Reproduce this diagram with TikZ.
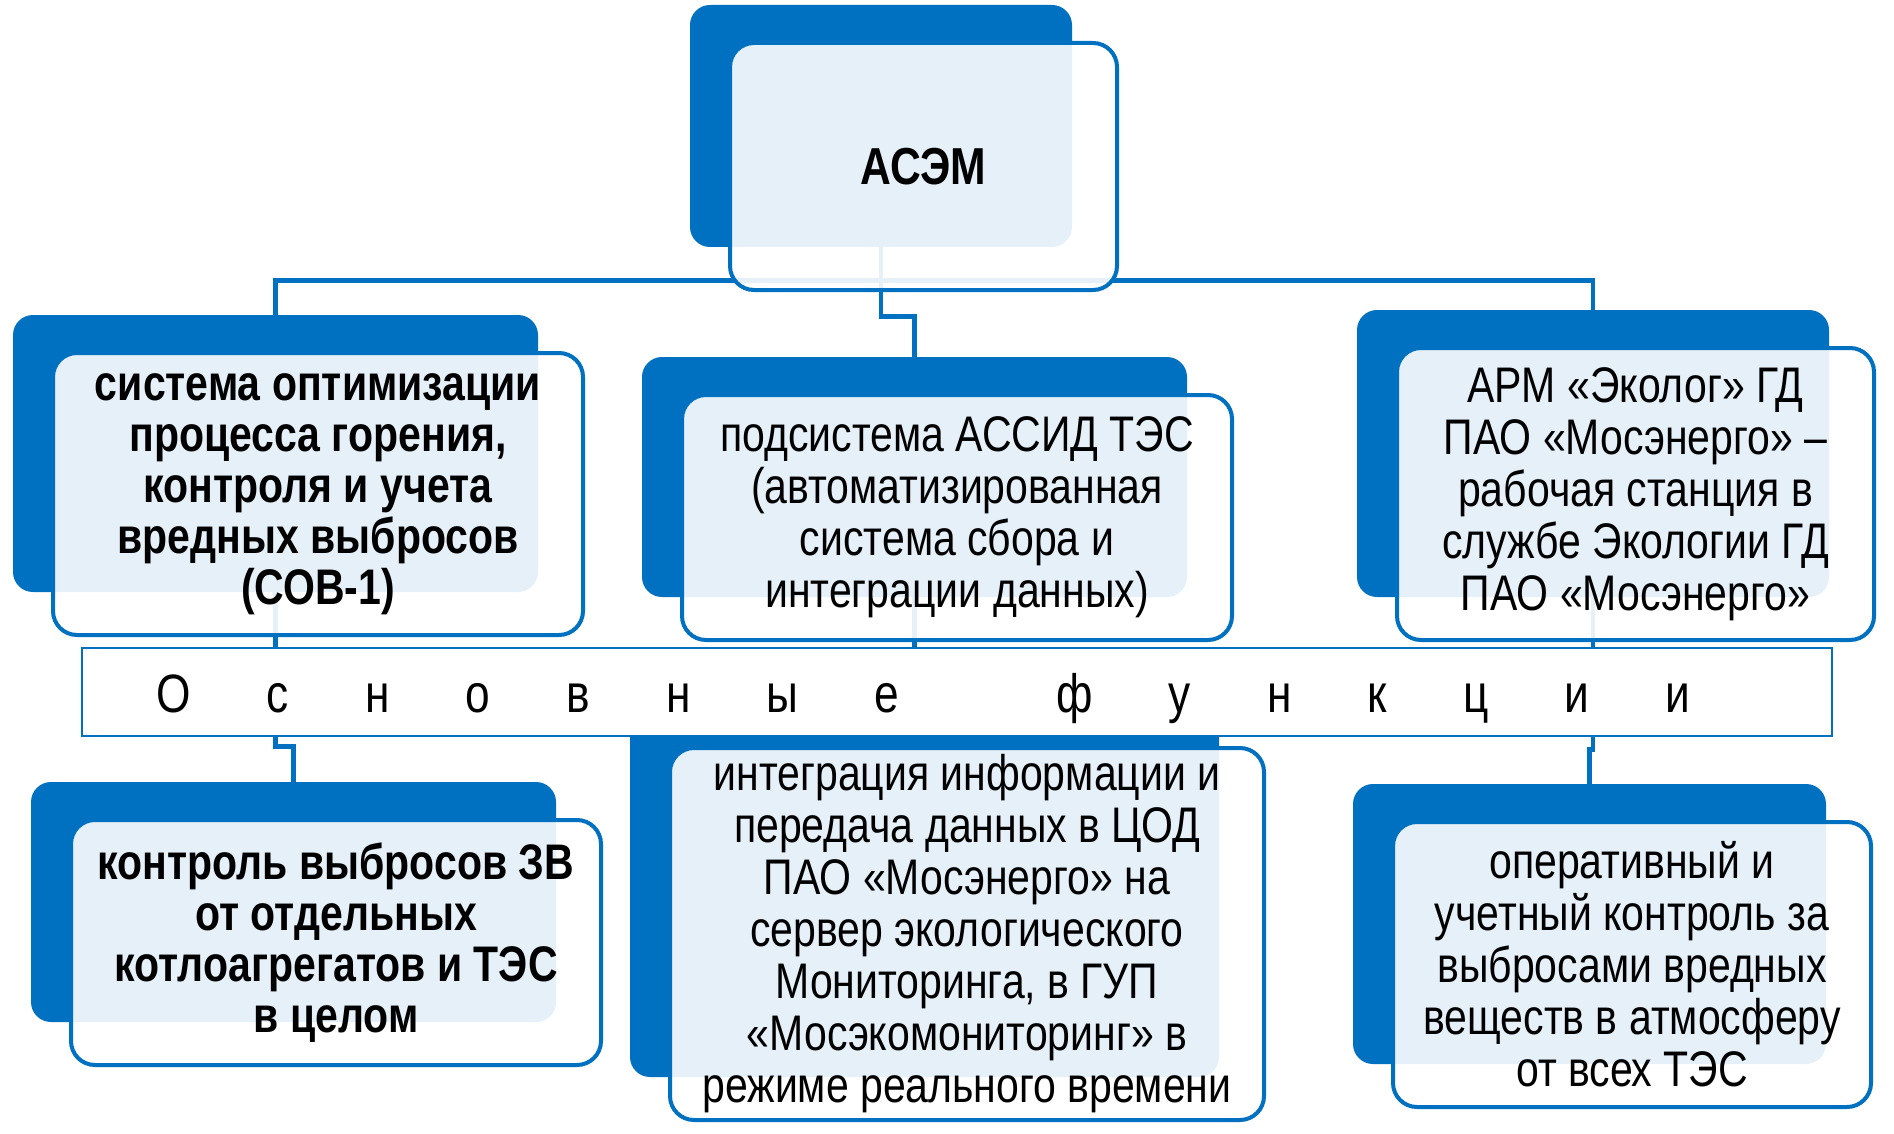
\documentclass[tikz,border=0pt]{standalone}
\usepackage{fontspec}
\setmainfont{Liberation Sans}[FakeStretch=0.82]
\usepackage{tikz}
\usetikzlibrary{fit,positioning}
\definecolor{asemblue}{RGB}{0,112,192}
\pgfdeclarelayer{back}
\pgfsetlayers{back,main}
\tikzset{
	frontbox/.style={draw=asemblue, line width=2pt, rounded corners=12pt, fill=white, fill opacity=0.9, text opacity=1, align=center, inner sep=0pt, font=\fontsize{25}{26}\selectfont},
	boldbox/.style={frontbox, font=\fontsize{25}{25.5}\selectfont\bfseries},
	backbox/.style={fill=asemblue, rounded corners=10pt, inner sep=0pt},
	conn/.style={draw=asemblue, line width=2.2pt},
	funcstrip/.style={draw=asemblue, line width=1pt, fill=white, inner sep=0pt}
}

\begin{document}
\begin{tikzpicture}[x=0.5pt, y=-0.5pt]
	\useasboundingbox (0,0) rectangle (1894,1134);
	% upper row
	\node[frontbox, minimum width=193.5pt, minimum height=123.5pt] (asem) at (923.5,166.5) {\bfseries\fontsize{26}{28}\selectfont АСЭМ};
	\node[boldbox, minimum width=265pt, minimum height=141pt] (sob) at (318,494) {система оптимизации\\процесса горения,\\контроля и учета\\вредных выбросов\\(СОВ-1)};
	\node[frontbox, minimum width=275pt, minimum height=122.5pt] (assid) at (957,517.5) {подсистема АССИД ТЭС\\(автоматизированная\\система сбора и\\интеграции данных)};
	\node[frontbox, minimum width=238.5pt, minimum height=146pt] (arm) at (1635.5,494) {АРМ «Эколог» ГД\\ПАО «Мосэнерго» –\\рабочая станция в\\службе Экологии ГД\\ПАО «Мосэнерго»};
	% strip
	\node[funcstrip, minimum width=875pt, minimum height=44pt] (band) at (957,692) {};
	\node[anchor=base west, inner sep=0pt, font=\fontsize{27}{30}\selectfont\addfontfeature{LetterSpace=141}] (functext) at (156,712) {Основные\hspace{34.5pt} функции};
	% lower row
	\node[boldbox, minimum width=265pt, minimum height=122.5pt] (kontr) at (336,942.5) {контроль выбросов ЗВ\\от отдельных\\котлоагрегатов и ТЭС\\в целом};
	\node[frontbox, minimum width=297pt, minimum height=186pt] (integr) at (967,934) {интеграция информации и\\передача данных в ЦОД\\ПАО «Мосэнерго» на\\сервер экологического\\Мониторинга, в ГУП\\«Мосэкомониторинг» в\\режиме реального времени};
	\node[frontbox, minimum width=239pt, minimum height=142.5pt] (oper) at (1632,964.5) {оперативный и\\учетный контроль за\\выбросами вредных\\веществ в атмосферу\\от всех ТЭС};
	\begin{pgfonlayer}{back}
		\foreach \bx in {asem,sob,assid,arm,kontr,integr,oper}
			\node[backbox, fit={([shift={(-38,-36)}]\bx.north west) ([shift={(-47,-45)}]\bx.south east)}] (back\bx) {};
		% connectors
		\draw[conn] (backasem.south) |- ([yshift=20pt]backassid.north) -- (backassid.north);
		\draw[conn] (backsob.north) |- ([yshift=-16.5pt]backasem.south) -| (backarm.north);
		\draw[conn] (backsob.south) -- (backsob.south |- band.north);
		\draw[conn] (backassid.south) -- (backassid.south |- band.north);
		\draw[conn] (backarm.south) -- (backarm.south |- band.north);
		\draw[conn] (band.south -| backsob.south) |- ([yshift=17.5pt]backkontr.north) -- (backkontr.north);
		\draw[conn] (band.south -| backarm.south) |- ([yshift=17pt]backoper.north) -- (backoper.north);
	\end{pgfonlayer}
\end{tikzpicture}
\end{document}
